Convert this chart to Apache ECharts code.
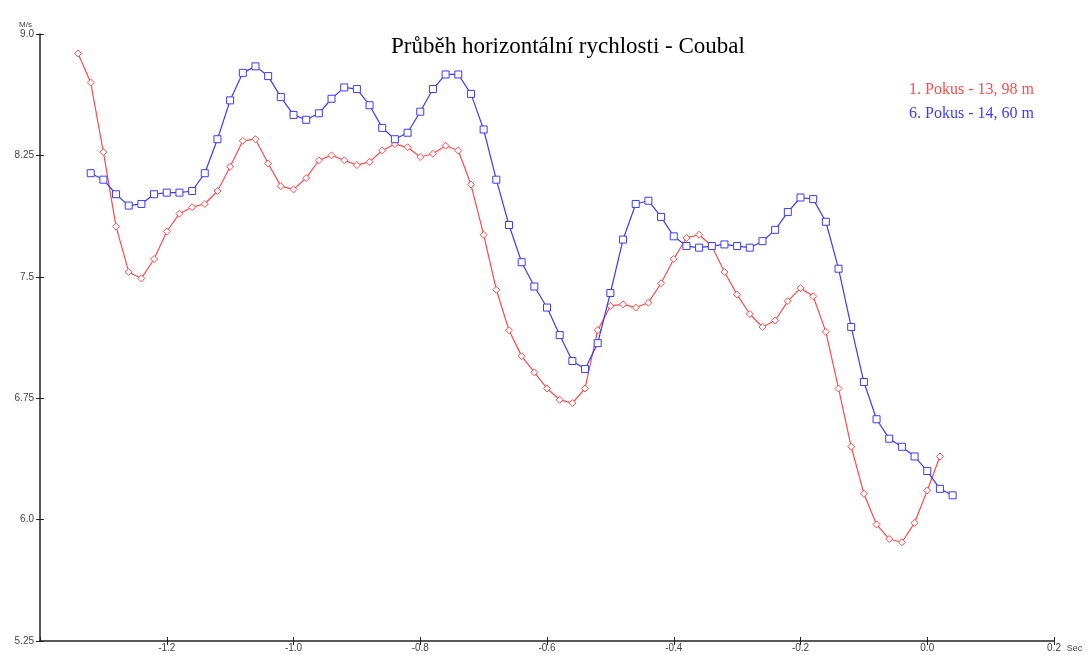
<!DOCTYPE html>
<html>
<head>
<meta charset="utf-8">
<script src="https://cdn.jsdelivr.net/npm/echarts@6/dist/echarts.min.js"></script>
<style>
  html, body { margin: 0; padding: 0; background: #fff; }
  #chart { width: 1092px; height: 655px; }
</style>
</head>
<body>
<div id="chart"></div>
<script>
// Sampling grid of each attempt (seconds) – one sample every 0.02 s
const SAMPLE_STEP = 0.02;
const pokus1Start = -1.34;
const pokus6Start = -1.32;

// Horizontal speed, M/s
const pokus1Speed = [
  8.88, 8.70, 8.27, 7.81, 7.53, 7.49, 7.61, 7.78, 7.89, 7.93,
  7.95, 8.03, 8.18, 8.34, 8.35, 8.20, 8.06, 8.04, 8.11, 8.22,
  8.25, 8.22, 8.19, 8.21, 8.28, 8.32, 8.30, 8.24, 8.26, 8.31,
  8.28, 8.07, 7.76, 7.42, 7.17, 7.01, 6.91, 6.81, 6.74, 6.72,
  6.81, 7.17, 7.32, 7.33, 7.31, 7.34, 7.46, 7.61, 7.74, 7.76,
  7.69, 7.53, 7.39, 7.27, 7.19, 7.23, 7.35, 7.43, 7.38, 7.16,
  6.81, 6.45, 6.16, 5.97, 5.88, 5.86, 5.98, 6.18, 6.39
];
const pokus6Speed = [
  8.14, 8.10, 8.01, 7.94, 7.95, 8.01, 8.02, 8.02, 8.03, 8.14,
  8.35, 8.59, 8.76, 8.80, 8.74, 8.61, 8.50, 8.47, 8.51, 8.60,
  8.67, 8.66, 8.56, 8.42, 8.35, 8.39, 8.52, 8.66, 8.75, 8.75,
  8.63, 8.41, 8.10, 7.82, 7.59, 7.44, 7.31, 7.14, 6.98, 6.93,
  7.09, 7.40, 7.73, 7.95, 7.97, 7.87, 7.75, 7.69, 7.68, 7.69,
  7.70, 7.69, 7.68, 7.72, 7.79, 7.90, 7.99, 7.98, 7.84, 7.55,
  7.19, 6.85, 6.62, 6.50, 6.45, 6.39, 6.30, 6.19, 6.15
];

const seriesNames = ['1. Pokus - 13, 98 m', '6. Pokus - 14, 60 m'];

// Axis ticks
const xTicks = [-1.4, -1.2, -1.0, -0.8, -0.6, -0.4, -0.2, 0.0, 0.2];
const yTicks = [5.25, 6.0, 6.75, 7.5, 8.25, 9.0];

const RED = '#ff4a4a';
const BLUE = '#3b3bff';

function pairs(start, values) {
  return values.map((v, i) => [+(start + i * SAMPLE_STEP).toFixed(2), v]);
}

const xMin = xTicks[0], xMax = xTicks[xTicks.length - 1];
const xStep = +(xTicks[1] - xTicks[0]).toFixed(2);
const yMin = yTicks[0], yMax = yTicks[yTicks.length - 1];
const yStep = +(yTicks[1] - yTicks[0]).toFixed(2);

const axisLine = { onZero: false, lineStyle: { color: '#222', width: 1.5 } };
const labelFont = { fontFamily: 'Liberation Sans, Arial, sans-serif', fontSize: 10, color: '#444' };
const tickStyle = { color: '#222', width: 1 };

const chart = echarts.init(document.getElementById('chart'), null, { renderer: 'canvas' });
chart.setOption({
  animation: false,
  backgroundColor: '#fff',
  title: {
    text: 'Průběh horizontální rychlosti - Coubal',
    left: 386,
    top: 30,
    textStyle: { fontFamily: 'Liberation Serif, Times New Roman, serif', fontSize: 23, fontWeight: 'normal', color: '#000' }
  },
  legend: {
    orient: 'vertical',
    left: 904,
    top: 77,
    icon: 'none',
    itemWidth: 0,
    itemGap: 8,
    selectedMode: false,
    data: [
      { name: seriesNames[0], textStyle: { color: RED } },
      { name: seriesNames[1], textStyle: { color: BLUE } }
    ],
    textStyle: { fontFamily: 'Liberation Serif, Times New Roman, serif', fontSize: 16, padding: [0, 0, 0, -5] }
  },
  grid: { left: 40, right: 38, top: 34, bottom: 14, containLabel: false },
  xAxis: [{
    type: 'value',
    min: xMin, max: xMax, interval: xStep,
    name: 'Sec',
    nameLocation: 'end',
    nameGap: 6,
    nameTextStyle: Object.assign({}, labelFont, { fontSize: 9, verticalAlign: 'top', padding: [3, 0, 0, 0] }),
    axisLine: axisLine,
    axisTick: { show: true, length: 4, lineStyle: tickStyle },
    axisLabel: Object.assign({}, labelFont, {
      showMinLabel: false,
      margin: 2,
      formatter: v => v.toFixed(1)
    }),
    splitLine: { show: false }
  }, {
    type: 'value',
    position: 'bottom',
    min: xMin, max: xMax, interval: xStep,
    axisLine: { show: false, onZero: false },
    axisTick: { show: true, inside: true, length: 4, lineStyle: tickStyle },
    axisLabel: { show: false },
    splitLine: { show: false }
  }],
  yAxis: [{
    type: 'value',
    position: 'left',
    min: yMin, max: yMax, interval: yStep,
    name: 'M/s',
    nameLocation: 'end',
    nameGap: 4,
    nameTextStyle: Object.assign({}, labelFont, { fontSize: 8, align: 'right', padding: [0, 8, 0, 0] }),
    axisLine: axisLine,
    axisTick: { show: true, length: 4, lineStyle: tickStyle },
    axisLabel: Object.assign({}, labelFont, {
      margin: 6,
      formatter: v => Number.isInteger(v) ? v.toFixed(1) : String(v)
    }),
    splitLine: { show: false }
  }, {
    type: 'value',
    position: 'left',
    min: yMin, max: yMax, interval: yStep,
    axisLine: { show: false, onZero: false },
    axisTick: { show: true, inside: true, length: 4, lineStyle: tickStyle },
    axisLabel: { show: false },
    splitLine: { show: false }
  }],
  series: [{
    name: seriesNames[0],
    type: 'line',
    data: pairs(pokus1Start, pokus1Speed),
    color: RED,
    lineStyle: { color: RED, width: 1.2 },
    symbol: 'diamond',
    symbolSize: 7,
    itemStyle: { color: '#fff', borderColor: RED, borderWidth: 1 },
    showAllSymbol: true,
    z: 3
  }, {
    name: seriesNames[1],
    type: 'line',
    data: pairs(pokus6Start, pokus6Speed),
    color: BLUE,
    lineStyle: { color: BLUE, width: 1.2 },
    symbol: 'rect',
    symbolSize: 7,
    itemStyle: { color: '#fff', borderColor: BLUE, borderWidth: 1 },
    showAllSymbol: true,
    z: 4
  }]
});
</script>
</body>
</html>
